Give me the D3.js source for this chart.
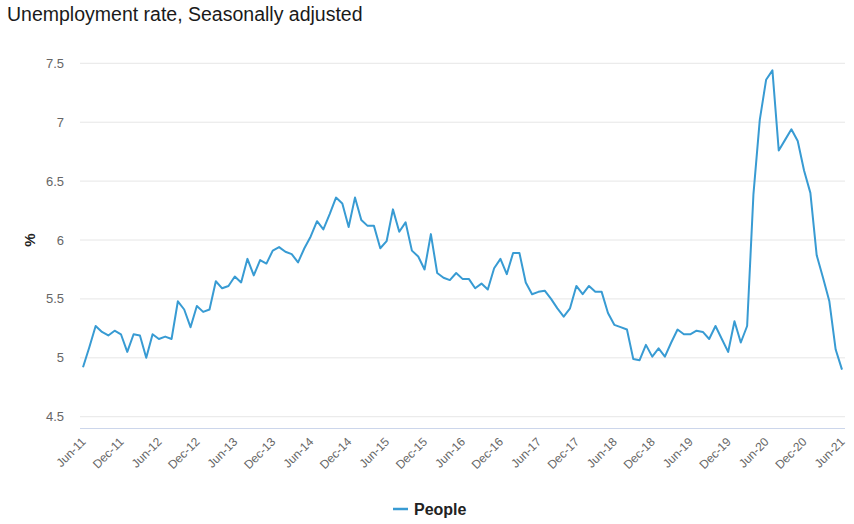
<!DOCTYPE html>
<html>
<head>
<meta charset="utf-8">
<script src="https://cdn.jsdelivr.net/npm/d3@7"></script>
<style>
  html, body { margin: 0; padding: 0; background: #fff; }
  svg { display: block; font-family: "Liberation Sans", Arial, Helvetica, sans-serif; }
</style>
</head>
<body>
<div id="chart"></div>
<script>
// Monthly, Jun-11 .. Jun-21 (121 months)
var START = new Date(2011, 5, 1);
var MONTHS = d3.timeMonth.range(START, new Date(2021, 6, 1));

var RATE = [
  4.92, 5.09, 5.27, 5.22, 5.19, 5.23, 5.20, 5.05, 5.20, 5.19, 5.00, 5.20,
  5.16, 5.18, 5.16, 5.48, 5.41, 5.26, 5.44, 5.39, 5.41, 5.65, 5.59, 5.61,
  5.69, 5.64, 5.84, 5.70, 5.83, 5.80, 5.91, 5.94, 5.90, 5.88, 5.81, 5.93,
  6.03, 6.16, 6.09, 6.22, 6.36, 6.31, 6.11, 6.36, 6.17, 6.12, 6.12, 5.93,
  5.99, 6.26, 6.07, 6.15, 5.91, 5.86, 5.75, 6.05, 5.72, 5.68, 5.66, 5.72,
  5.67, 5.67, 5.59, 5.63, 5.58, 5.76, 5.84, 5.71, 5.89, 5.89, 5.64, 5.54,
  5.56, 5.57, 5.50, 5.42, 5.35, 5.42, 5.61, 5.54, 5.61, 5.56, 5.56, 5.38,
  5.28, 5.26, 5.24, 4.99, 4.98, 5.11, 5.01, 5.08, 5.01, 5.13, 5.24, 5.20,
  5.20, 5.23, 5.22, 5.16, 5.27, 5.16, 5.05, 5.31, 5.13, 5.27, 6.39, 7.02,
  7.36, 7.44, 6.76, 6.85, 6.94, 6.84, 6.59, 6.40, 5.87, 5.68, 5.48, 5.07,
  4.90
];

var TICK_LABELS = ['Jun-11', 'Dec-11', 'Jun-12', 'Dec-12', 'Jun-13', 'Dec-13',
  'Jun-14', 'Dec-14', 'Jun-15', 'Dec-15', 'Jun-16', 'Dec-16', 'Jun-17', 'Dec-17',
  'Jun-18', 'Dec-18', 'Jun-19', 'Dec-19', 'Jun-20', 'Dec-20', 'Jun-21'];
var Y_TICKS = [4.5, 5, 5.5, 6, 6.5, 7, 7.5];

var W = 854, H = 524;
var plotL = 80, plotR = 845, plotB = 428.5;
var COLOR = '#389bd3';

var svg = d3.select('#chart').append('svg')
  .attr('width', W).attr('height', H);

var x = d3.scaleLinear().domain([0, MONTHS.length - 1]).range([83, 842]);
var y = d3.scaleLinear().domain([4.4, 7.5]).range([plotB, 63.3]);

svg.append('text').attr('x', 7).attr('y', 21)
  .attr('font-size', 19.5).attr('fill', '#1a1a1a')
  .text('Unemployment rate, Seasonally adjusted');

// grid + y labels
Y_TICKS.forEach(function (t) {
  svg.append('line').attr('x1', plotL).attr('x2', plotR)
    .attr('y1', y(t)).attr('y2', y(t))
    .attr('stroke', '#e6e6e6').attr('stroke-width', 1);
  svg.append('text').attr('x', 64).attr('y', y(t)).attr('dy', '0.35em')
    .attr('text-anchor', 'end').attr('font-size', 13).attr('fill', '#666')
    .text(String(t));
});

svg.append('text')
  .attr('transform', 'translate(35,' + y(6) + ') rotate(-90)')
  .attr('text-anchor', 'middle').attr('font-size', 15).attr('font-weight', 'bold')
  .attr('fill', '#222').text('%');

// x axis
var xAxis = d3.axisBottom(x)
  .tickValues(d3.range(0, MONTHS.length, 6))
  .tickSize(0)
  .tickFormat(function (d, i) { return TICK_LABELS[i]; });
var gx = svg.append('g').attr('transform', 'translate(0,' + plotB + ')').call(xAxis);
gx.select('.domain').remove();
gx.selectAll('text')
  .attr('font-size', 12).attr('fill', '#666')
  .attr('text-anchor', 'end')
  .attr('dy', null).attr('y', 0)
  .attr('transform', 'translate(3,14) rotate(-45)');
svg.append('line').attr('x1', plotL).attr('x2', plotR)
  .attr('y1', plotB).attr('y2', plotB)
  .attr('stroke', '#ccd6eb').attr('stroke-width', 1);

// line
var line = d3.line()
  .x(function (d, i) { return x(i); })
  .y(function (d) { return y(d); });
svg.append('path').datum(RATE)
  .attr('d', line)
  .attr('fill', 'none').attr('stroke', COLOR).attr('stroke-width', 2)
  .attr('stroke-linejoin', 'round');

// legend
svg.append('line').attr('x1', 393).attr('x2', 408).attr('y1', 509).attr('y2', 509)
  .attr('stroke', COLOR).attr('stroke-width', 2.5);
svg.append('text').attr('x', 414).attr('y', 515)
  .attr('font-size', 16).attr('font-weight', 'bold').attr('fill', '#222')
  .text('People');
</script>
</body>
</html>
